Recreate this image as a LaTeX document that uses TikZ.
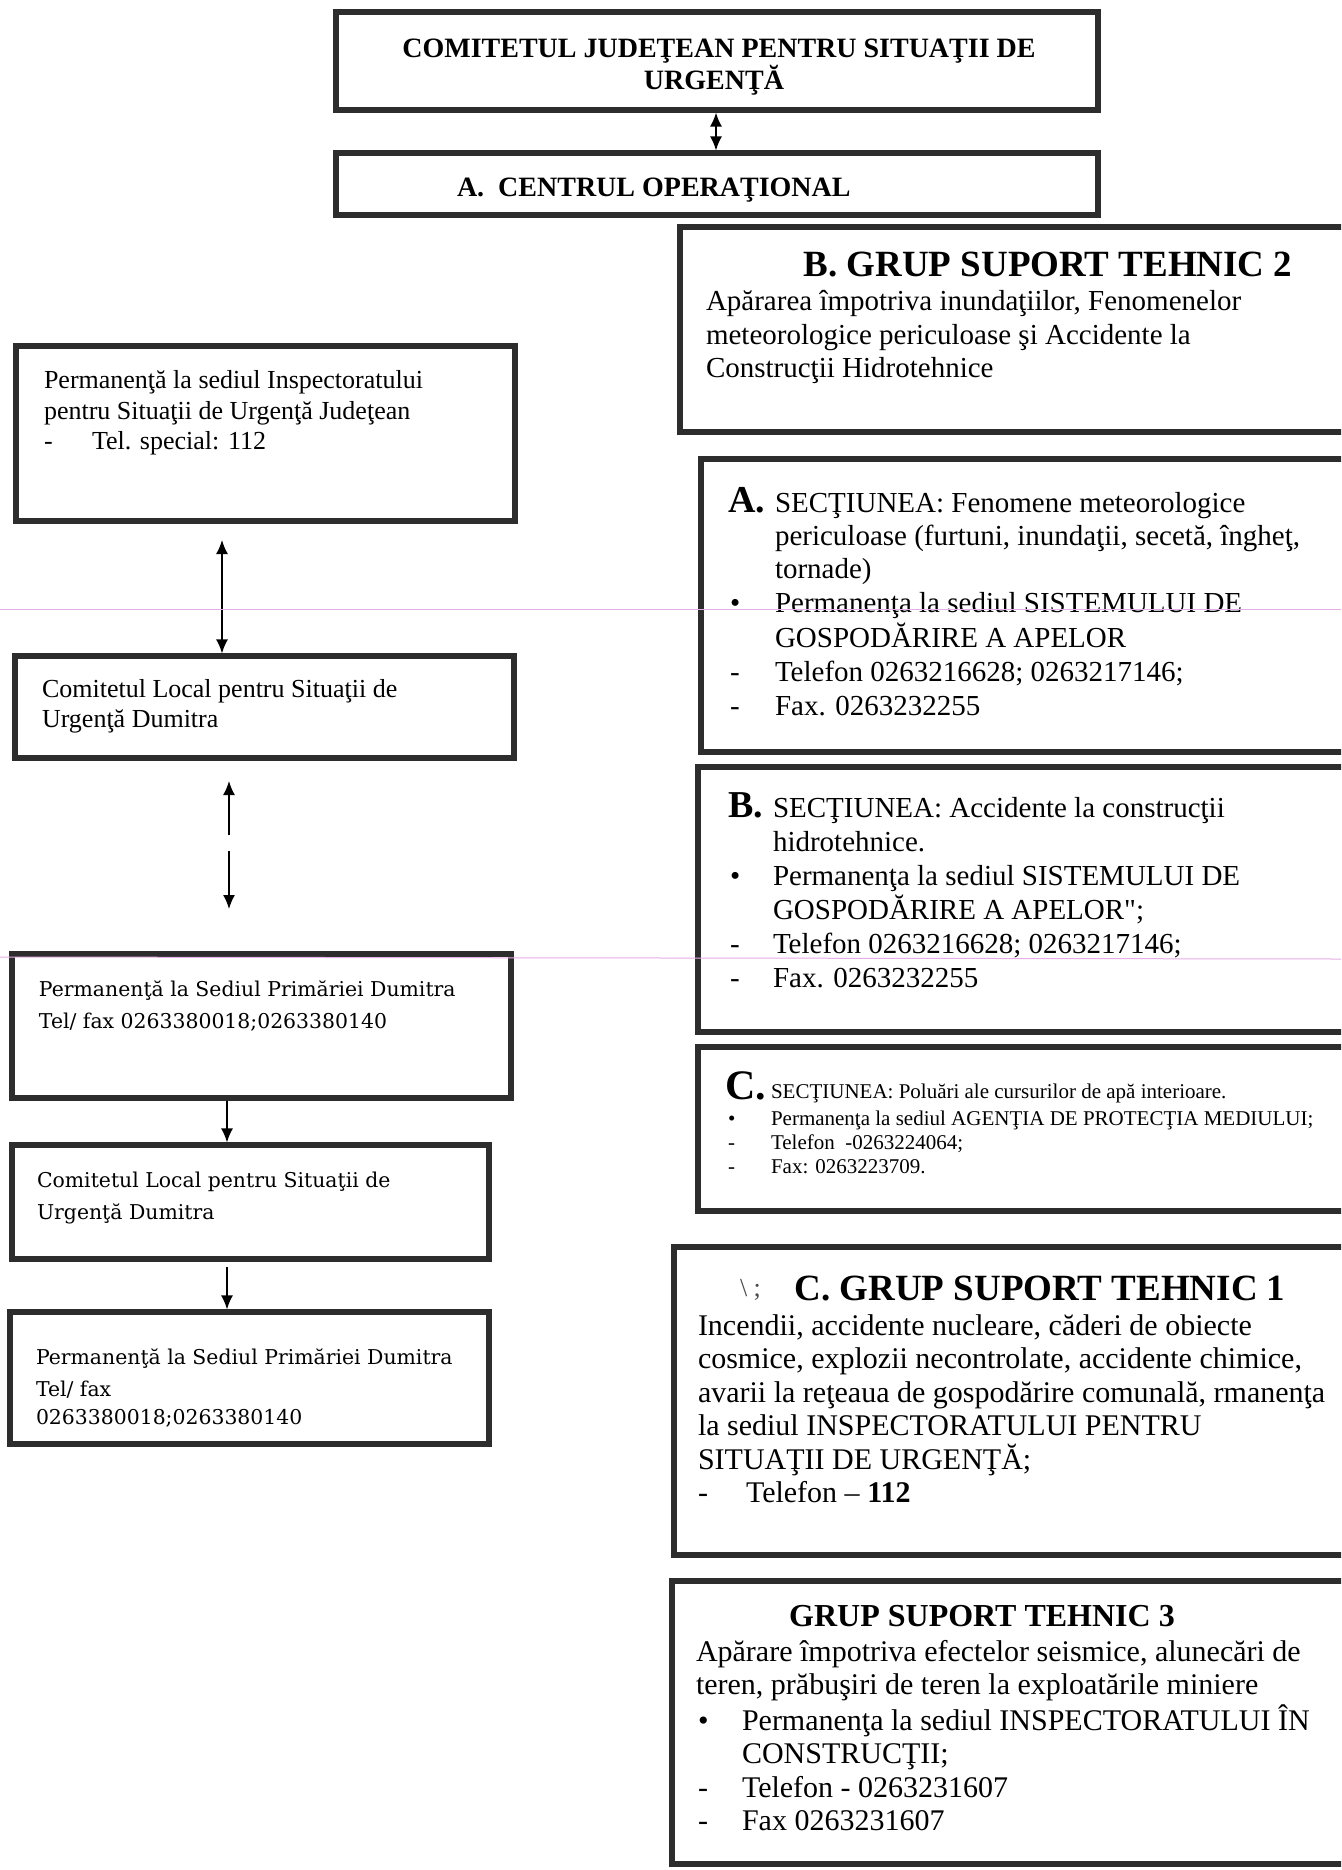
\documentclass[tikz,border=0pt]{standalone}
\usepackage{fontspec}
\setmainfont{Liberation Serif}
\newfontfamily\wideserif{DejaVu Serif}
\newfontfamily\nolig[Ligatures=ResetAll]{Liberation Serif}
\usetikzlibrary{arrows.meta,fit}
\definecolor{bord}{RGB}{45,45,45}
\definecolor{scanpink}{RGB}{228,175,228}
\tikzset{
  box/.style={draw=bord, line width=2.6pt, inner sep=0pt},
  tx/.style={anchor=base west, inner sep=0pt, outer sep=0pt},
  txc/.style={anchor=base, inner sep=0pt, outer sep=0pt},
  fhead/.style={font=\fontsize{14}{16}\selectfont\bfseries},
  fbig/.style={font=\fontsize{18.5}{20}\selectfont\bfseries},
  fmid/.style={font=\fontsize{16}{18}\selectfont\bfseries},
  fleft/.style={font=\fontsize{13}{15}\selectfont},
  fwide/.style={font=\wideserif\fontsize{10.2}{12}\selectfont},
  fsec/.style={font=\fontsize{14.5}{17}\selectfont},
  fsecs/.style={font=\fontsize{10.5}{12}\selectfont},
  fgrp/.style={font=\fontsize{15}{17}\selectfont},
  flet/.style={font=\fontsize{19}{20}\selectfont\bfseries},
  arr/.style={draw=black, line width=0.8pt, -{Latex[length=7pt,width=6pt]}},
  darr/.style={draw=black, line width=0.8pt, {Latex[length=7pt,width=6pt]}-{Latex[length=7pt,width=6pt]}},
}
\begin{document}
\begin{tikzpicture}[x=0.5pt,y=-0.5pt]
\useasboundingbox (0,0) rectangle (1341,1870);
\clip (0,0) rectangle (1341,1870);
\fill[white] (0,0) rectangle (1341,1870);

% ---------- boxes ----------
\node[box, fit={(336,12) (1098,110)}] (top) {};
\node[box, fit={(336,153) (1098,215)}] (opA) {};
\node[box, fit={(680,227) (1352,432)}] (gst2) {};
\node[box, fit={(16,346) (515,521)}] (lb1) {};
\node[box, fit={(15,656) (514,758)}] (lb2) {};
\node[box, fit={(12,954) (511,1098)}] (lb3) {};
\node[box, fit={(12,1145) (489,1259)}] (lb4) {};
\node[box, fit={(10,1312) (489,1444)}] (lb5) {};
\node[box, fit={(701,459) (1352,752)}] (secA) {};
\node[box, fit={(698,767) (1352,1032)}] (secB) {};
\node[box, fit={(698,1047) (1352,1211)}] (secC) {};
\node[box, fit={(674,1247) (1352,1555)}] (gst1) {};
\node[box, fit={(672,1581) (1352,1864)}] (gst3) {};

% ---------- connectors ----------
\coordinate (ax) at (716,0);
\draw[darr] (top.south -| ax) -- (opA.north -| ax);
\coordinate (l1a) at (222,540);
\draw[darr] (l1a) -- (lb2.north -| l1a);
\coordinate (bu1) at (229,835);
\coordinate (bu2) at (229,781);
\coordinate (bd1) at (229,851);
\coordinate (bd2) at (229,909);
\draw[arr] (bu1) -- (bu2);
\draw[arr] (bd1) -- (bd2);
\coordinate (l3x) at (227,0);
\draw[arr] (lb3.south -| l3x) -- (lb4.north -| l3x);
\coordinate (l4a) at (227,1267);
\draw[arr] (l4a) -- (lb5.north -| l4a);

% ---------- top texts ----------
\node[txc, fhead] (th1) at (719,57) {COMITETUL JUDEŢEAN PENTRU SITUAŢII DE};
\node[txc, fhead] (th2) at (714,89) {URGENŢĂ};
\node[tx, fhead] (oa) at (457,196) {A.\ \ CENTRUL OPERAŢIONAL};

% ---------- GST2 ----------
\node[txc, fbig] (g2t) at (1048,276) {B. GRUP SUPORT TEHNIC 2};
\node[tx, fsec] (g2a) at (706,310) {Apărarea împotriva inundaţiilor, Fenomenelor};
\node[tx, fsec] (g2b) at (706,344) {meteorologice periculoase şi Accidente la};
\node[tx, fsec] (g2c) at (706,377) {Construcţii Hidrotehnice};

% ---------- left column ----------
\node[tx, fleft] (l1a1) at (44,388) {Permanenţă la sediul Inspectoratului};
\node[tx, fleft] (l1a2) at (44,419) {pentru Situaţii de Urgenţă Judeţean};
\node[tx, fleft] (l1a3) at (44,449) {-};
\node[tx, fleft] (l1a4) at (92,449) {Tel. special: 112};

\node[tx, fleft] (l2a1) at (42,697) {Comitetul Local pentru Situaţii de};
\node[tx, fleft] (l2a2) at (42,727) {Urgenţă Dumitra};

\node[tx, fwide] (l3a1) at (39,996) {Permanenţă la Sediul Primăriei Dumitra};
\node[tx, fwide] (l3a2) at (39,1028) {Tel/ fax 0263380018;0263380140};

\node[tx, fwide] (l4a1) at (37,1187) {Comitetul Local pentru Situaţii de};
\node[tx, fwide] (l4a2) at (37,1219) {Urgenţă Dumitra};

\node[tx, fwide] (l5a1) at (36,1364) {Permanenţă la Sediul Primăriei Dumitra};
\node[tx, fwide] (l5a2) at (36,1396) {Tel/ fax};
\node[tx, fwide] (l5a3) at (36,1424) {0263380018;0263380140};

% ---------- Section A ----------
\node[tx, flet] (sAl) at (728,512) {A.};
\node[tx, fsec] (sA1) at (775,512) {SECŢIUNEA: Fenomene meteorologice};
\node[tx, fsec] (sA2) at (775,545) {periculoase (furtuni, inundaţii, secetă, îngheţ,};
\node[tx, fsec] (sA3) at (775,578) {tornade)};
\node[tx, fsec] (sA4b) at (730,612) {•};
\node[tx, fsec] (sA4) at (775,612) {Permanenţa la sediul SISTEMULUI DE};
\node[tx, fsec] (sA5) at (775,647) {GOSPODĂRIRE A APELOR};
\node[tx, fsec] (sA6b) at (730,681) {-};
\node[tx, fsec] (sA6) at (775,681) {Telefon 0263216628; 0263217146;};
\node[tx, fsec] (sA7b) at (730,715) {-};
\node[tx, fsec] (sA7) at (775,715) {Fax. 0263232255};

% ---------- Section B ----------
\node[tx, flet] (sBl) at (728,817) {B.};
\node[tx, fsec] (sB1) at (773,817) {SECŢIUNEA: Accidente la construcţii};
\node[tx, fsec] (sB2) at (773,851) {hidrotehnice.};
\node[tx, fsec] (sB3b) at (730,885) {•};
\node[tx, fsec] (sB3) at (773,885) {Permanenţa la sediul SISTEMULUI DE};
\node[tx, fsec] (sB4) at (773,919) {GOSPODĂRIRE A APELOR{\nolig "};};
\node[tx, fsec] (sB5b) at (730,953) {-};
\node[tx, fsec] (sB5) at (773,953) {Telefon 0263216628; 0263217146;};
\node[tx, fsec] (sB6b) at (730,987) {-};
\node[tx, fsec] (sB6) at (773,987) {Fax. 0263232255};

% ---------- Section C ----------
\node[tx, font=\fontsize{21}{22}\selectfont\bfseries] (sCl) at (725,1099) {C.};
\node[tx, fsecs] (sC1) at (771,1098) {SECŢIUNEA: Poluări ale cursurilor de apă interioare.};
\node[tx, fsecs] (sC2b) at (728,1125) {•};
\node[tx, fsecs] (sC2) at (771,1125) {Permanenţa la sediul AGENŢIA DE PROTECŢIA MEDIULUI;};
\node[tx, fsecs] (sC3b) at (728,1149) {-};
\node[tx, fsecs] (sC3) at (771,1149) {Telefon\ \ -0263224064;};
\node[tx, fsecs] (sC4b) at (728,1173) {-};
\node[tx, fsecs] (sC4) at (771,1173) {Fax: 0263223709.};

% ---------- GST1 ----------
\node[tx, font=\fontsize{13}{14}\selectfont, text=black!70] (mark) at (740,1296) {\textbackslash\ ;};
\node[txc, fbig] (g1t) at (1040,1300) {C. GRUP SUPORT TEHNIC 1};
\node[tx, fgrp] (g1a) at (698,1335) {Incendii, accidente nucleare, căderi de obiecte};
\node[tx, fgrp] (g1b) at (698,1368) {cosmice, explozii necontrolate, accidente chimice,};
\node[tx, fgrp] (g1c) at (698,1402) {avarii la reţeaua de gospodărire comunală, rmanenţa};
\node[tx, fgrp] (g1d) at (698,1435) {la sediul INSPECTORATULUI PENTRU};
\node[tx, fgrp] (g1e) at (698,1469) {SITUAŢII DE URGENŢĂ;};
\node[tx, fgrp] (g1fb) at (698,1502) {-};
\node[tx, fgrp] (g1f) at (746,1502) {Telefon -- \textbf{112}};

% ---------- GST3 ----------
\node[txc, fmid] (g3t) at (982,1626) {GRUP SUPORT TEHNIC 3};
\node[tx, fgrp] (g3a) at (696,1661) {Apărare împotriva efectelor seismice, alunecări de};
\node[tx, fgrp] (g3b) at (696,1694) {teren, prăbuşiri de teren la exploatările miniere};
\node[tx, fgrp] (g3cb) at (698,1730) {•};
\node[tx, fgrp] (g3c) at (742,1730) {Permanenţa la sediul INSPECTORATULUI ÎN};
\node[tx, fgrp] (g3d) at (742,1763) {CONSTRUCŢII;};
\node[tx, fgrp] (g3eb) at (698,1797) {-};
\node[tx, fgrp] (g3e) at (742,1797) {Telefon - 0263231607};
\node[tx, fgrp] (g3fb) at (698,1830) {-};
\node[tx, fgrp] (g3f) at (742,1830) {Fax 0263231607};

% ---------- scan lines ----------
\draw[scanpink, line width=0.5pt] (0,609) -- (1341,609);
\draw[scanpink, line width=0.5pt] (0,957) -- (1341,959);
\end{tikzpicture}
\end{document}
